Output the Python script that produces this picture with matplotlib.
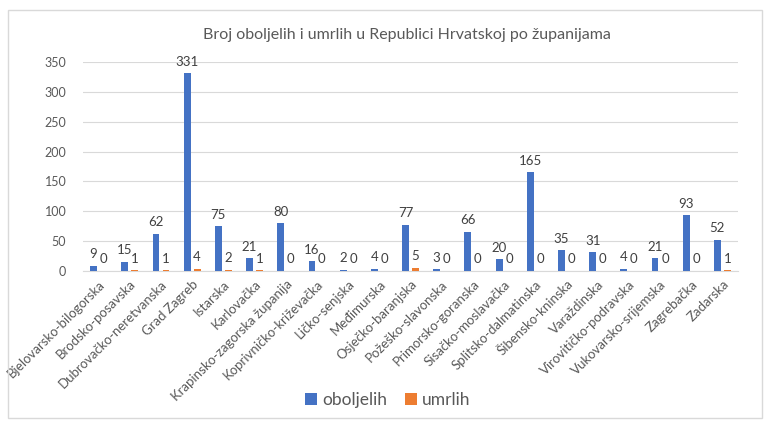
import matplotlib
matplotlib.use("Agg")
import matplotlib.pyplot as plt
import numpy as np
from matplotlib.patches import Rectangle

categories = ["Bjelovarsko-bilogorska", "Brodsko-posavska", "Dubrovačko-neretvanska",
              "Grad Zagreb", "Istarska", "Karlovačka", "Krapinsko-zagorska županija",
              "Koprivničko-križevačka", "Ličko-senjska", "Međimurska", "Osječko-baranjska",
              "Požeško-slavonska", "Primorsko-goranska", "Sisačko-moslavačka",
              "Splitsko-dalmatinska", "Šibensko-kninska", "Varaždinska",
              "Virovitičko-podravska", "Vukovarsko-srijemska", "Zagrebačka", "Zadarska"]
oboljelih = [9, 15, 62, 331, 75, 21, 80, 16, 2, 4, 77, 3, 66, 20, 165, 35, 31, 4, 21, 93, 52]
umrlih = [0, 1, 1, 4, 2, 1, 0, 0, 0, 0, 5, 0, 0, 0, 0, 0, 0, 0, 0, 0, 1]
yticks = [0, 50, 100, 150, 200, 250, 300, 350]

plt.rcParams['font.family'] = ['Lato', 'DejaVu Sans']
txt = '#595959'

fig = plt.figure(figsize=(7.71, 4.32), dpi=100)
fig.patches.append(Rectangle((8/771, 1-418/432), (762-8)/771, (418-10)/432,
                             transform=fig.transFigure, fill=False, edgecolor='#D9D9D9', lw=1))
ax = fig.add_axes([83/771, 1-271/432, (738-83)/771, (271-62)/432])

x = np.arange(len(categories))
w = 0.22
off = 0.16
b1 = ax.bar(x - off, oboljelih, w, color='#4472C4', label='oboljelih', zorder=3)
b2 = ax.bar(x + off, umrlih, w, color='#ED7D31', label='umrlih', zorder=3)
for bars, vals in ((b1, oboljelih), (b2, umrlih)):
    for r, v in zip(bars, vals):
        ax.annotate(str(v), (r.get_x() + r.get_width()/2, r.get_height()),
                    xytext=(0, 4), textcoords='offset points', ha='center', va='bottom',
                    fontsize=9.5, color='#404040', annotation_clip=False)

ax.set_xlim(-0.5, len(categories) - 0.5)
ax.set_ylim(0, 350)
ax.set_yticks(yticks)
ax.grid(axis='y', color='#D9D9D9', lw=0.8, zorder=0)
for s in ['top', 'right', 'left']:
    ax.spines[s].set_visible(False)
ax.spines['bottom'].set_color('#D9D9D9')
ax.tick_params(axis='both', length=0, colors=txt, labelsize=9)
ax.tick_params(axis='y', pad=12)
ax.tick_params(axis='x', pad=5)
ax.set_xticks(x)
ax.set_xticklabels(categories, rotation=45, ha='right', rotation_mode='anchor', fontsize=9.5, color=txt)

fig.text(407/771, 1-35/432, "Broj oboljelih i umrlih u Republici Hrvatskoj po županijama",
         ha='center', va='center', fontsize=11.5, color=txt)
fig.legend(handles=[b1, b2], loc='center', bbox_to_anchor=(0.503, 1-400/432), ncol=2,
           frameon=False, fontsize=12.5, labelcolor=txt, handlelength=0.7, handleheight=0.7,
           handletextpad=0.3, columnspacing=1.0)

fig.savefig("out.png", dpi=100)
